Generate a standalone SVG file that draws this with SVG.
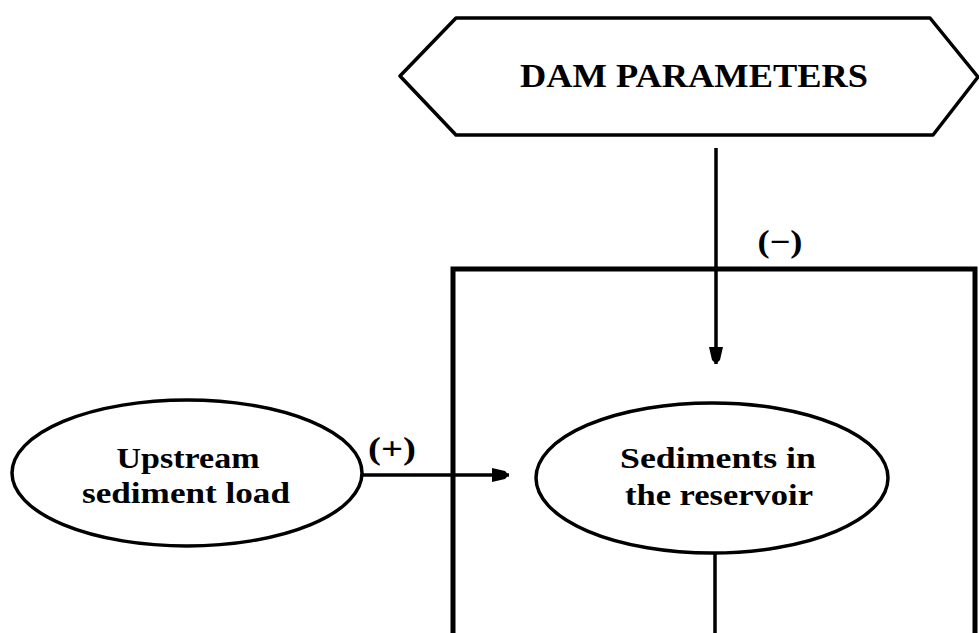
<svg xmlns="http://www.w3.org/2000/svg" width="979" height="633" viewBox="0 0 979 633">
  <style>
    .shape { fill: #fff; stroke: #000; stroke-width: 3.5; stroke-linejoin: round; }
    .frame { fill: none; stroke: #000; stroke-width: 5; }
    .wire { fill: none; stroke: #000; stroke-width: 3.5; }
    .lbl { font-family: "Liberation Serif", "Times New Roman", serif; font-weight: bold; fill: #000; text-anchor: middle; }
  </style>
  <defs>
    <marker id="head" viewBox="0 0 18 16" refX="17" refY="8" markerWidth="18" markerHeight="16" markerUnits="userSpaceOnUse" orient="auto">
      <path d="M0,1 L13,4 Q18,8 13,12 L0,15 Z" fill="#000"/>
    </marker>
  </defs>
  <rect width="979" height="633" fill="#fff"/>

  <!-- reservoir frame (runs past the bottom edge) -->
  <g id="reservoir-frame">
    <path class="frame" d="M453,645 L453,269 L975,269 L975,645"/>
  </g>

  <!-- connectors -->
  <g id="connectors">
    <line class="wire" x1="716" y1="148" x2="716" y2="364" marker-end="url(#head)"/>
    <line class="wire" x1="362" y1="475" x2="509" y2="475" marker-end="url(#head)"/>
    <line class="wire" x1="715" y1="553" x2="715" y2="640"/>
    <text class="lbl" x="780" y="252" font-size="31" textLength="45" lengthAdjust="spacingAndGlyphs">(−)</text>
    <text class="lbl" x="392" y="459" font-size="31" textLength="48" lengthAdjust="spacingAndGlyphs">(+)</text>
  </g>

  <g id="dam-parameters">
    <polygon class="shape" points="400,76 456,18 930,18 978,77 933,135 456,135"/>
    <text class="lbl" x="694" y="87" font-size="34" textLength="348" lengthAdjust="spacingAndGlyphs">DAM PARAMETERS</text>
  </g>

  <g id="upstream-load">
    <ellipse class="shape" cx="187" cy="473" rx="175" ry="73"/>
    <text class="lbl" x="188" y="468" font-size="29" textLength="143" lengthAdjust="spacingAndGlyphs">Upstream</text>
    <text class="lbl" x="186" y="503" font-size="29" textLength="208" lengthAdjust="spacingAndGlyphs">sediment load</text>
  </g>

  <g id="reservoir-sediments">
    <ellipse class="shape" cx="712" cy="478" rx="176" ry="75"/>
    <text class="lbl" x="718" y="468" font-size="29" textLength="196" lengthAdjust="spacingAndGlyphs">Sediments in</text>
    <text class="lbl" x="719" y="505" font-size="29" textLength="188" lengthAdjust="spacingAndGlyphs">the reservoir</text>
  </g>
</svg>
